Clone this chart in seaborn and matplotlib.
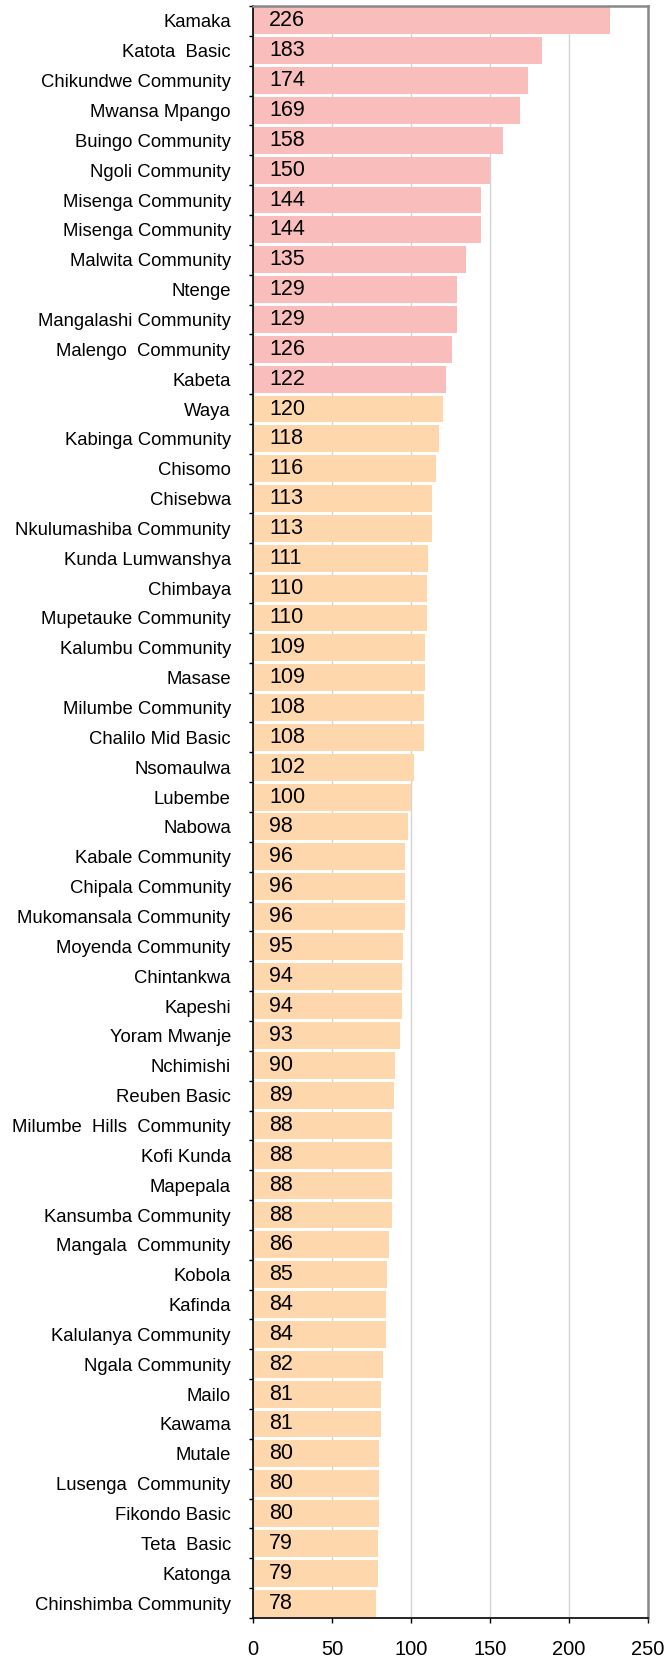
import pandas as pd
import matplotlib
matplotlib.use("Agg")
import matplotlib.pyplot as plt
import seaborn as sns
from matplotlib.ticker import FixedLocator

schools = [
    "Kamaka", "Katota  Basic", "Chikundwe Community", "Mwansa Mpango",
    "Buingo Community", "Ngoli Community", "Misenga Community", "Misenga Community",
    "Malwita Community", "Ntenge", "Mangalashi Community", "Malengo  Community",
    "Kabeta", "Waya", "Kabinga Community", "Chisomo", "Chisebwa",
    "Nkulumashiba Community", "Kunda Lumwanshya", "Chimbaya", "Mupetauke Community",
    "Kalumbu Community", "Masase", "Milumbe Community", "Chalilo Mid Basic",
    "Nsomaulwa", "Lubembe", "Nabowa", "Kabale Community", "Chipala Community",
    "Mukomansala Community", "Moyenda Community", "Chintankwa", "Kapeshi",
    "Yoram Mwanje", "Nchimishi", "Reuben Basic", "Milumbe  Hills  Community",
    "Kofi Kunda", "Mapepala", "Kansumba Community", "Mangala  Community", "Kobola",
    "Kafinda", "Kalulanya Community", "Ngala Community", "Mailo", "Kawama", "Mutale",
    "Lusenga  Community", "Fikondo Basic", "Teta  Basic", "Katonga",
    "Chinshimba Community",
]
values = [
    226, 183, 174, 169, 158, 150, 144, 144, 135, 129, 129, 126, 122,
    120, 118, 116, 113, 113, 111, 110, 110, 109, 109, 108, 108, 102, 100,
    98, 96, 96, 96, 95, 94, 94, 93, 90, 89, 88, 88, 88, 88, 86, 85, 84, 84,
    82, 81, 81, 80, 80, 80, 79, 79, 78,
]
n_high = 13
groups = ["high"] * n_high + ["rest"] * (len(values) - n_high)
group_colors = {"high": "#F9BEBC", "rest": "#FED8AC"}
x_ticks = [0, 50, 100, 150, 200, 250]

sns.set_style("whitegrid")
plt.rcParams['font.family'] = ['Liberation Sans', 'DejaVu Sans']
plt.rcParams['text.color'] = 'black'
plt.rcParams['xtick.color'] = 'black'
plt.rcParams['ytick.color'] = 'black'

df = pd.DataFrame({
    "row": [str(i) for i in range(len(values))],
    "school": schools,
    "value": values,
    "group": groups,
})

fig = plt.figure(figsize=(6.66, 16.62), dpi=100)
ax = fig.add_axes([253 / 666, 1 - 1618 / 1662, (648 - 253) / 666, (1618 - 6) / 1662])

sns.barplot(data=df, x="value", y="row", hue="group", palette=group_colors,
            dodge=False, width=0.9, saturation=1, linewidth=0, legend=False, ax=ax)

# value labels sit just inside the left end of each bar
for i, v in enumerate(df["value"]):
    ax.annotate(str(v), xy=(0, i), xytext=(11.5, 0), textcoords="offset points",
                ha="left", va="center", fontsize=15.5, color="black")

ax.set_xlim(0, 250)
ax.set_ylim(len(values) - 0.5, -0.5)
ax.set_xticks(x_ticks)
ax.set_xticklabels([str(t) for t in x_ticks], fontsize=14.5)
ax.set_yticks(range(len(values)))
ax.set_yticklabels(df["school"], fontsize=13.3)
ax.yaxis.set_minor_locator(FixedLocator([i - 0.5 for i in range(len(values) + 1)]))
ax.tick_params(axis="y", which="major", length=0, pad=16)
ax.tick_params(axis="y", which="minor", left=True, length=3, width=1, color="black", direction="out")
ax.tick_params(axis="x", which="major", bottom=True, length=3.5, width=1, color="black",
               direction="out", pad=12)
ax.set_xlabel("")
ax.set_ylabel("")

ax.grid(axis="y", visible=False)
ax.grid(axis="x", color="#d4d4d4", linewidth=1)
ax.set_axisbelow(True)

ax.spines["left"].set_color("black")
ax.spines["left"].set_linewidth(1.2)
ax.spines["bottom"].set_color("black")
ax.spines["bottom"].set_linewidth(1.2)
for s in ["top", "right"]:
    ax.spines[s].set_color("#888888")
    ax.spines[s].set_linewidth(1.8)

fig.savefig("out.png", dpi=100)
